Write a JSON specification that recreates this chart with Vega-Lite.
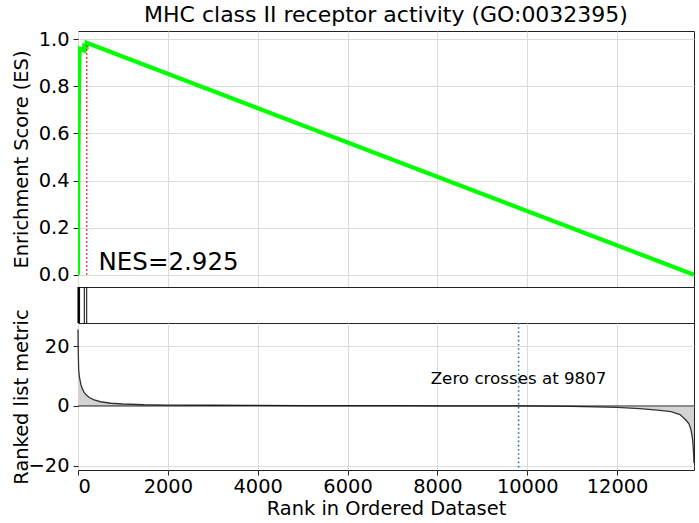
{
  "$schema": "https://vega.github.io/schema/vega-lite/v6.json",
  "padding": {"left": 10, "top": 3, "right": 6, "bottom": 0},
  "spacing": 0,
  "bounds": "flush",
  "background": "white",
  "config": {
    "font": "DejaVu Sans",
    "view": {"stroke": "#222222", "strokeWidth": 1},
    "axis": {
      "gridColor": "#dcdcdc",
      "gridWidth": 1,
      "domain": false,
      "tickColor": "#222222",
      "tickSize": 5,
      "labelPadding": 4,
      "labelFontSize": 19.4,
      "labelColor": "black",
      "titleFontSize": 19.4,
      "titleFontWeight": "normal",
      "titleColor": "black"
    }
  },
  "datasets": {
    "es": [
      {"rank": 0, "es": 0},
      {"rank": 1, "es": 0.25},
      {"rank": 8, "es": 0.5},
      {"rank": 20, "es": 0.75},
      {"rank": 35, "es": 0.96},
      {"rank": 139, "es": 0.952},
      {"rank": 140, "es": 0.972},
      {"rank": 193, "es": 0.968},
      {"rank": 194, "es": 0.985},
      {"rank": 13712, "es": 0}
    ],
    "hits": [
      {"rank": 1}, {"rank": 8}, {"rank": 20}, {"rank": 35}, {"rank": 140}, {"rank": 194}
    ],
    "metric": [
      {"rank": 0, "v": 25.5},
      {"rank": 3, "v": 21},
      {"rank": 7, "v": 17.5},
      {"rank": 15, "v": 12},
      {"rank": 30, "v": 9.8},
      {"rank": 44, "v": 8.7},
      {"rank": 67, "v": 7},
      {"rank": 100, "v": 5.6},
      {"rank": 140, "v": 4.4},
      {"rank": 180, "v": 3.7},
      {"rank": 250, "v": 2.8},
      {"rank": 360, "v": 2.0},
      {"rank": 500, "v": 1.4},
      {"rank": 735, "v": 0.9},
      {"rank": 1000, "v": 0.65},
      {"rank": 1470, "v": 0.4},
      {"rank": 2000, "v": 0.3},
      {"rank": 3000, "v": 0.22},
      {"rank": 4000, "v": 0.17},
      {"rank": 5000, "v": 0.13},
      {"rank": 6000, "v": 0.1},
      {"rank": 7000, "v": 0.07},
      {"rank": 8000, "v": 0.04},
      {"rank": 9000, "v": 0.02},
      {"rank": 9807, "v": 0},
      {"rank": 10500, "v": -0.05},
      {"rank": 11000, "v": -0.15},
      {"rank": 11500, "v": -0.3},
      {"rank": 12000, "v": -0.45},
      {"rank": 12500, "v": -0.9},
      {"rank": 12900, "v": -1.4},
      {"rank": 13200, "v": -1.9},
      {"rank": 13400, "v": -2.9},
      {"rank": 13530, "v": -4.7},
      {"rank": 13600, "v": -6},
      {"rank": 13646, "v": -8},
      {"rank": 13680, "v": -11},
      {"rank": 13700, "v": -15},
      {"rank": 13712, "v": -19.1}
    ],
    "peak": [{"rank": 194, "lo": 0, "hi": 0.985}],
    "nes": [{"rank": 457, "es": 0.021, "label": "NES=2.925"}],
    "zero": [{"rank": 9807, "v": 9, "label": "Zero crosses at 9807"}]
  },
  "vconcat": [
    {
      "width": 616,
      "height": 256,
      "title": {"text": "MHC class II receptor activity (GO:0032395)", "fontSize": 22, "fontWeight": "normal", "color": "black", "anchor": "middle", "frame": "group", "offset": 2.5},
      "layer": [
        {
          "data": {"name": "es"},
          "mark": {"type": "line", "color": "#00ff00", "strokeWidth": 4.2, "clip": true},
          "encoding": {
            "x": {"field": "rank", "type": "quantitative", "scale": {"domain": [0, 13712], "nice": false, "zero": false},
                  "axis": {"title": null, "labels": false, "ticks": false, "values": [0, 2000, 4000, 6000, 8000, 10000, 12000]}},
            "y": {"field": "es", "type": "quantitative", "scale": {"domain": [-0.052, 1.035], "nice": false, "zero": false},
                  "axis": {"title": "Enrichment Score (ES)", "values": [0, 0.2, 0.4, 0.6, 0.8, 1.0], "format": ".1f", "titleX": -57, "titleBaseline": "middle", "titleAnchor": "middle"}}
          }
        },
        {
          "data": {"name": "peak"},
          "mark": {"type": "rule", "color": "red", "strokeWidth": 1.4, "strokeDash": [1.5, 2.5]},
          "encoding": {
            "x": {"field": "rank", "type": "quantitative"},
            "y": {"field": "lo", "type": "quantitative"},
            "y2": {"field": "hi"}
          }
        },
        {
          "data": {"name": "nes"},
          "mark": {"type": "text", "align": "left", "baseline": "alphabetic", "fontSize": 24.5, "color": "black"},
          "encoding": {
            "x": {"field": "rank", "type": "quantitative"},
            "y": {"field": "es", "type": "quantitative"},
            "text": {"field": "label"}
          }
        }
      ]
    },
    {
      "width": 616,
      "height": 36,
      "data": {"name": "hits"},
      "mark": {"type": "rule", "color": "black", "strokeWidth": 1},
      "encoding": {
        "x": {"field": "rank", "type": "quantitative", "scale": {"domain": [0, 13712], "nice": false, "zero": false}, "axis": null}
      }
    },
    {
      "width": 616,
      "height": 147,
      "layer": [
        {
          "data": {"name": "metric"},
          "mark": {"type": "area", "color": "#d3d3d3", "opacity": 1},
          "encoding": {
            "x": {"field": "rank", "type": "quantitative", "scale": {"domain": [0, 13712], "nice": false, "zero": false},
                  "axis": {"title": "Rank in Ordered Dataset", "values": [0, 2000, 4000, 6000, 8000, 10000, 12000], "format": "d", "labelPadding": 2, "titlePadding": 4}},
            "y": {"field": "v", "type": "quantitative", "scale": {"domain": [-21.4, 27.7], "nice": false, "zero": false},
                  "axis": {"title": "Ranked list metric", "values": [-20, 0, 20], "format": "d", "titleX": -57, "titleBaseline": "middle", "titleAnchor": "middle"}},
            "y2": {"datum": 0}
          }
        },
        {
          "data": {"name": "metric"},
          "mark": {"type": "line", "color": "#333333", "strokeWidth": 1.3},
          "encoding": {
            "x": {"field": "rank", "type": "quantitative"},
            "y": {"field": "v", "type": "quantitative"}
          }
        },
        {
          "data": {"name": "zero"},
          "mark": {"type": "rule", "color": "black", "strokeWidth": 0.8},
          "encoding": {"y": {"datum": 0}}
        },
        {
          "data": {"name": "zero"},
          "mark": {"type": "rule", "color": "#1f77b4", "strokeWidth": 1.6, "strokeDash": [1.6, 2.6]},
          "encoding": {"x": {"field": "rank", "type": "quantitative"}}
        },
        {
          "data": {"name": "zero"},
          "mark": {"type": "text", "align": "center", "baseline": "middle", "fontSize": 16.7, "color": "black"},
          "encoding": {
            "x": {"field": "rank", "type": "quantitative"},
            "y": {"field": "v", "type": "quantitative"},
            "text": {"field": "label"}
          }
        }
      ]
    }
  ]
}
